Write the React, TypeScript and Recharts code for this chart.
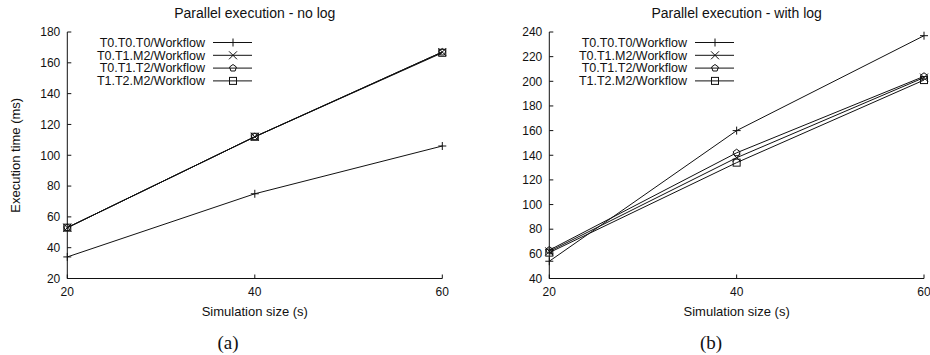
import { Line, LineChart, XAxis, YAxis, Label } from "recharts";

const sizes = [20, 40, 60];
const seriesNames = ["T0.T0.T0/Workflow", "T0.T1.M2/Workflow", "T0.T1.T2/Workflow", "T1.T2.M2/Workflow"];

const noLogT0T0T0 = [34, 75, 106];
const noLogT0T1M2 = [53, 112, 167];
const noLogT0T1T2 = [53, 112, 167];
const noLogT1T2M2 = [53, 112, 166.5];

const withLogT0T0T0 = [54, 160, 237];
const withLogT0T1M2 = [62, 138, 203];
const withLogT0T1T2 = [63, 142, 204];
const withLogT1T2M2 = [61, 134, 201];

const noLogTicks = [20, 40, 60, 80, 100, 120, 140, 160, 180];
const withLogTicks = [40, 60, 80, 100, 120, 140, 160, 180, 200, 220, 240];

const shapes = ["plus", "cross", "pentagon", "square"] as const;
const keys = ["s0", "s1", "s2", "s3"];

const buildRows = (cols: number[][]) =>
  sizes.map((size, i) => ({ size, s0: cols[0][i], s1: cols[1][i], s2: cols[2][i], s3: cols[3][i] }));

const noLogRows = buildRows([noLogT0T0T0, noLogT0T1M2, noLogT0T1T2, noLogT1T2M2]);
const withLogRows = buildRows([withLogT0T0T0, withLogT0T1M2, withLogT0T1T2, withLogT1T2M2]);

const FONT = "'Liberation Sans', Arial, sans-serif";
const INK = "#111";

function Marker({ shape, cx, cy }: { shape: string; cx: number; cy: number }) {
  if (cx == null || cy == null) return null;
  const s = 4;
  if (shape === "plus")
    return <path d={`M${cx - s},${cy}H${cx + s}M${cx},${cy - s}V${cy + s}`} stroke={INK} strokeWidth={1} fill="none" />;
  if (shape === "cross")
    return (
      <path
        d={`M${cx - s},${cy - s}L${cx + s},${cy + s}M${cx + s},${cy - s}L${cx - s},${cy + s}`}
        stroke={INK}
        strokeWidth={1}
        fill="none"
      />
    );
  if (shape === "pentagon") {
    const r = 3.6;
    const pts = [0, 1, 2, 3, 4]
      .map((k) => {
        const a = -Math.PI / 2 + (k * 2 * Math.PI) / 5;
        return `${cx + r * Math.cos(a)},${cy + r * Math.sin(a)}`;
      })
      .join(" ");
    return <polygon points={pts} stroke={INK} strokeWidth={1} fill="none" />;
  }
  return <rect x={cx - 3.5} y={cy - 3.5} width={7} height={7} stroke={INK} strokeWidth={1} fill="none" />;
}

function LegendBox() {
  return (
    <svg width={200} height={60} style={{ display: "block" }}>
      {seriesNames.map((name, i) => {
        const y = 10.5 + i * 12.8;
        return (
          <g key={name}>
            <text x={138} y={y} dy="0.35em" textAnchor="end" fontSize={12.5} fontFamily={FONT} fill={INK}>
              {name}
            </text>
            <line x1={146} x2={185} y1={y} y2={y} stroke={INK} strokeWidth={1} />
            <Marker shape={shapes[i]} cx={166} cy={y} />
          </g>
        );
      })}
    </svg>
  );
}

type PanelProps = {
  rows: any[];
  yTicks: number[];
  width: number;
  left: number;
  marginLeft: number;
  marginRight: number;
  title: string;
  yLabel?: string;
};

function Panel({ rows, yTicks, width, left, marginLeft, marginRight, title, yLabel }: PanelProps) {
  const yAxisWidth = 60;
  const plotLeft = marginLeft + yAxisWidth;
  const plotWidth = width - marginLeft - marginRight - yAxisWidth;
  const domain: [number, number] = [yTicks[0], yTicks[yTicks.length - 1]];
  const tickStyle = { fontSize: 12, fontFamily: FONT, fill: INK };
  return (
    <div style={{ position: "absolute", left, top: 0, width, height: 355 }}>
      <div
        style={{
          position: "absolute",
          left: plotLeft,
          width: plotWidth,
          top: 5,
          textAlign: "center",
          fontFamily: FONT,
          fontSize: 14,
          lineHeight: "16px",
          color: INK,
          whiteSpace: "nowrap",
        }}
      >
        {title}
      </div>
      <LineChart width={width} height={355} data={rows} margin={{ top: 32, right: marginRight, bottom: 31.5, left: marginLeft }}>
        <XAxis
          dataKey="size"
          type="number"
          domain={[20, 60]}
          ticks={sizes}
          height={45}
          tickSize={-4}
          tickMargin={13}
          tick={tickStyle}
          axisLine={{ stroke: INK }}
          tickLine={{ stroke: INK }}
        >
          <Label
            value="Simulation size (s)"
            position="insideBottom"
            offset={8}
            style={{ fontSize: 13, fontFamily: FONT, fill: INK }}
          />
        </XAxis>
        <XAxis
          xAxisId="top"
          orientation="top"
          dataKey="size"
          type="number"
          domain={[20, 60]}
          ticks={sizes}
          height={0}
          tickSize={-4}
          tick={false}
          axisLine={{ stroke: INK }}
          tickLine={{ stroke: INK }}
        />
        <YAxis
          type="number"
          domain={domain}
          ticks={yTicks}
          width={yAxisWidth}
          tickSize={-4}
          tickMargin={11}
          tick={tickStyle}
          axisLine={{ stroke: INK }}
          tickLine={{ stroke: INK }}
          interval={0}
        >
          {yLabel && (
            <Label
              value={yLabel}
              angle={-90}
              position="insideLeft"
              offset={8}
              style={{ fontSize: 13, fontFamily: FONT, fill: INK, textAnchor: "middle" }}
            />
          )}
        </YAxis>
        <YAxis
          yAxisId="right"
          orientation="right"
          type="number"
          domain={domain}
          ticks={yTicks}
          width={0}
          tickSize={-4}
          tick={false}
          axisLine={{ stroke: INK }}
          tickLine={{ stroke: INK }}
        />
        {keys.map((k, i) => (
          <Line
            key={k}
            dataKey={k}
            name={seriesNames[i]}
            type="linear"
            stroke={INK}
            strokeWidth={1}
            isAnimationActive={false}
            dot={(p: any) => <Marker key={`${k}-${p.index}`} shape={shapes[i]} cx={p.cx} cy={p.cy} />}
            activeDot={false}
          />
        ))}
      </LineChart>
      <div style={{ position: "absolute", left: plotLeft, top: 32 }}>
        <LegendBox />
      </div>
    </div>
  );
}

export default function App() {
  return (
    <div
      style={{
        position: "absolute",
        left: 0,
        top: 0,
        width: 930,
        height: 355,
        overflow: "hidden",
        background: "#fff",
      }}
    >
      <Panel
        rows={noLogRows}
        yTicks={noLogTicks}
        width={460}
        left={0}
        marginLeft={7.3}
        marginRight={17.7}
        title="Parallel execution - no log"
        yLabel="Execution time (ms)"
      />
      <Panel
        rows={withLogRows}
        yTicks={withLogTicks}
        width={470}
        left={460}
        marginLeft={29.3}
        marginRight={6}
        title="Parallel execution - with log"
      />
      <div
        style={{
          position: "absolute",
          left: 178,
          width: 100,
          top: 331,
          textAlign: "center",
          fontFamily: "'Liberation Serif', 'Times New Roman', serif",
          fontSize: 19,
          lineHeight: "24px",
          color: INK,
        }}
      >
        (a)
      </div>
      <div
        style={{
          position: "absolute",
          left: 661,
          width: 100,
          top: 331,
          textAlign: "center",
          fontFamily: "'Liberation Serif', 'Times New Roman', serif",
          fontSize: 19,
          lineHeight: "24px",
          color: INK,
        }}
      >
        (b)
      </div>
    </div>
  );
}
